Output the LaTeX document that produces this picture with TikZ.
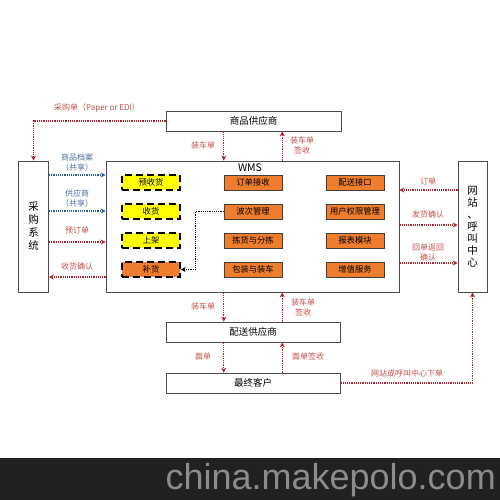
\documentclass[tikz,border=0pt]{standalone}
\usepackage{fontspec}
\setmainfont{Noto Sans CJK SC}
\newfontfamily\markfont{Liberation Sans}
\usetikzlibrary{arrows.meta,positioning}
\definecolor{flowred}{HTML}{B3202A}
\definecolor{labelred}{HTML}{C0504D}
\definecolor{flowblue}{HTML}{2E5C98}
\definecolor{labelblue}{HTML}{4F6FA5}
\definecolor{taskorange}{HTML}{EE7D2D}
\definecolor{taskyellow}{HTML}{FFFF00}

\begin{document}
\begin{tikzpicture}[x=1pt,y=-1pt,
    node distance=29pt and 102pt,on grid,>={Stealth[length=5pt,width=5pt]},
    frame/.style={rectangle,draw=black!70,line width=0.8pt,inner sep=0pt,font=\fontsize{9.5}{13}\selectfont},
    task/.style={rectangle,draw=black!75,line width=0.6pt,fill=taskorange,minimum width=58pt,minimum height=15pt,inner sep=0pt,font=\fontsize{8.3}{9}\selectfont},
    stage/.style={task,fill=taskyellow,draw=black,line width=1.3pt,dash pattern=on 7pt off 4pt},
    redflow/.style={->,flowred,line width=1.2pt,densely dotted},
    blueflow/.style={->,flowblue,line width=1.2pt,densely dotted},
    redlabel/.style={text=labelred,font=\fontsize{8}{10}\selectfont,align=center,inner sep=0pt},
    bluelabel/.style={redlabel,text=labelblue}]

    \useasboundingbox (0,0) rectangle (500,500);

    % outer systems
    \node[frame,minimum width=175pt,minimum height=20pt] (goodsup) at (253.5,121) {商品供应商};
    \node[frame,minimum width=293pt,minimum height=131pt] (wms) at (252.5,226.5) {};
    \node[font=\fontsize{10.5}{12}\selectfont] (wmstitle) at (250,168) {WMS};
    \node[frame,minimum width=30pt,minimum height=131pt,align=center,font=\fontsize{10.5}{13}\selectfont] (purch) at (33.5,226.5) {采\\购\\系\\统};
    \node[frame,minimum width=29pt,minimum height=131pt,align=center,font=\fontsize{10.5}{12}\selectfont] (web) at (472.5,226.5) {网\\站\\、\\呼\\叫\\中\\心};
    \node[frame,minimum width=174pt,minimum height=20pt] (delsup) at (253,332) {配送供应商};
    \node[frame,minimum width=174pt,minimum height=20pt] (cust) at (253,383) {最终客户};

    % WMS functions
    \node[stage] (prerecv) at (151,182.5) {预收货};
    \node[stage,below=of prerecv] (recv) {收货};
    \node[stage,below=of recv] (shelve) {上架};
    \node[stage,fill=taskorange,below=of shelve] (replen) {补货};
    \node[task,right=of prerecv] (ordrecv) {订单接收};
    \node[task,below=of ordrecv] (wave) {波次管理};
    \node[task,below=of wave] (pick) {拣货与分拣};
    \node[task,below=of pick] (pack) {包装与装车};
    \node[task,right=of ordrecv] (delif) {配送接口};
    \node[task,below=of delif] (rights) {用户权限管理};
    \node[task,below=of rights] (report) {报表模块};
    \node[task,below=of report] (valadd) {增值服务};

    \draw[->,line width=1.2pt,densely dotted] (wave.west) -- ++(-28,0) |- (replen.east);

    % purchase side
    \draw[redflow] (goodsup.west) -| (purch.north);
    \node[redlabel] (polbl) at (97,108) {采购单（Paper or EDI）};
    \draw[blueflow] (purch.east |- 0,175) -- (wms.west |- 0,175);
    \node[bluelabel] (itemlbl) at (77,162) {商品档案\\（共享）};
    \draw[blueflow] (purch.east |- 0,211) -- (wms.west |- 0,211);
    \node[bluelabel] (suplbl) at (77,198) {供应商\\（共享）};
    \draw[redflow] (purch.east |- 0,242) -- (wms.west |- 0,242);
    \node[redlabel] (prelbl) at (77,230) {预订单};
    \draw[redflow] (wms.west |- 0,277) -- (purch.east |- 0,277);
    \node[redlabel] (acklbl) at (77,266) {收货确认};

    % goods supplier
    \draw[redflow] (goodsup.south -| ordrecv.west) -- (wms.north -| ordrecv.west);
    \node[redlabel] (load1) at (203,145) {装车单};
    \draw[redflow] (wms.north -| ordrecv.east) -- (goodsup.south -| ordrecv.east);
    \node[redlabel] (sign1) at (302,145) {装车单\\签收};

    % web side
    \draw[redflow] (web.west |- 0,190) -- (wms.east |- 0,190);
    \node[redlabel] (ordlbl) at (428,181) {订单};
    \draw[redflow] (wms.east |- 0,225) -- (web.west |- 0,225);
    \node[redlabel] (shiplbl) at (428,214) {发货确认};
    \draw[redflow] (wms.east |- 0,263) -- (web.west |- 0,263);
    \node[redlabel] (retlbl) at (428,252) {回单返回\\确认};

    % delivery
    \draw[redflow] (wms.south -| pack.west) -- (delsup.north -| pack.west);
    \node[redlabel] (load2) at (203,306) {装车单};
    \draw[redflow] (delsup.north -| pack.east) -- (wms.south -| pack.east);
    \node[redlabel] (sign2) at (303,307) {装车单\\签收};
    \draw[redflow] (delsup.south -| pack.west) -- (cust.north -| pack.west);
    \node[redlabel] (waybill) at (203,356) {面单};
    \draw[redflow] (cust.north -| pack.east) -- (delsup.south -| pack.east);
    \node[redlabel] (wbsign) at (308,356) {面单签收};
    \draw[redflow] (cust.east) -| (web.south);
    \node[redlabel] (onlinelbl) at (407,373) {网站或呼叫中心下单};

    % watermark bar
    \fill[black!87] (0,458) rectangle (500,500);
    \node[anchor=base east,inner sep=0pt,text=black!45,font=\markfont\fontsize{36}{36}\selectfont] (mark) at (496,489) {china.makepolo.com};
\end{tikzpicture}
\end{document}
